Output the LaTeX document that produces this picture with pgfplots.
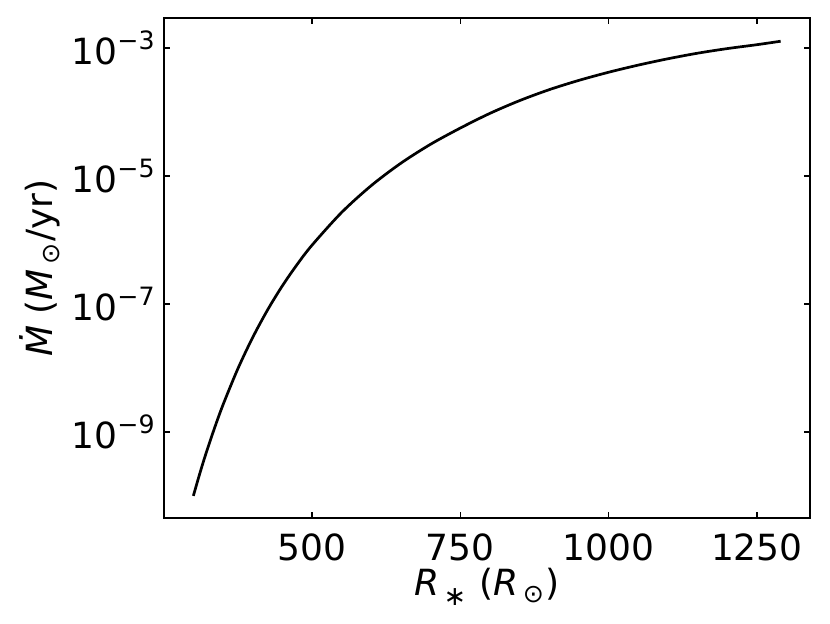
\documentclass[border=0pt]{standalone}
\usepackage{fontspec}
\setmainfont{DejaVu Sans}
\usepackage{pgfplots}
\pgfplotsset{compat=1.18}

% matplotlib-like super/subscripts in the text font
\newcommand\tsup[1]{\raisebox{0.41em}{\fontsize{14}{14}\selectfont #1}}
\newcommand\tsub[1]{\hspace{0.12em}\raisebox{-0.2em}{\fontsize{14}{14}\selectfont #1}\hspace{0.05em}}
\newcommand\tast{\hspace{0.12em}\raisebox{-0.3em}{\fontsize{15}{15}\selectfont ∗}\hspace{0.05em}}

\begin{document}
\begin{tikzpicture}
    \useasboundingbox (-91pt,-58.3pt) rectangle (369.6pt,287.5pt);

    \begin{axis}[
        scale only axis,
        width             = 358.5pt,
        height            = 277.5pt,
        ymode             = log,
        xmin              = 250.5,
        xmax              = 1339.5,
        ymin              = 4.5e-11,
        ymax              = 2.95e-3,
        xtick             = {500, 750, 1000, 1250},
        xticklabels       = {500, 750, 1000, 1250},
        ytick             = {1e-9, 1e-7, 1e-5, 1e-3},
        yticklabels       = {10\tsup{−9}, 10\tsup{−7}, 10\tsup{−5}, 10\tsup{−3}},
        xminorticks       = false,
        yminorticks       = false,
        tick align        = inside,
        major tick length = 3.5pt,
        every tick/.style = {black, line width=0.8pt},
        axis line style   = {line width=0.8pt},
        tick label style  = {font=\fontsize{20}{24}\selectfont, inner sep=0pt},
        xticklabel style  = {yshift=-8.3pt},
        yticklabel style  = {xshift=-5pt},
        label style       = {font=\fontsize{20}{24}\selectfont},
        xlabel            = {\textit{R}\tast{} (\textit{R}\tsub{⊙})},
        ylabel            = {\textit{Ṁ} (\textit{M}\tsub{⊙}/yr)},
        xlabel style      = {at={(axis description cs:0.5,-0.154)}, anchor=base},
        ylabel style      = {at={(axis description cs:-0.192,0.5)}, anchor=center},
    ]

    \addplot[black, line width=1.5pt, smooth] coordinates {
        (300, 1.00e-10)
        (310, 2.10e-10)
        (320, 4.22e-10)
        (335, 1.10e-9)
        (350, 2.65e-9)
        (375, 9.70e-9)
        (400, 2.99e-8)
        (425, 8.03e-8)
        (450, 1.92e-7)
        (475, 4.15e-7)
        (500, 8.29e-7)
        (550, 2.70e-6)
        (600, 7.10e-6)
        (650, 1.59e-5)
        (700, 3.14e-5)
        (750, 5.62e-5)
        (800, 9.55e-5)
        (850, 1.51e-4)
        (900, 2.24e-4)
        (950, 3.13e-4)
        (1000, 4.19e-4)
        (1050, 5.42e-4)
        (1100, 6.81e-4)
        (1150, 8.32e-4)
        (1200, 9.82e-4)
        (1250, 1.13e-3)
        (1290, 1.28e-3)
    };
    \end{axis}
\end{tikzpicture}
\end{document}
